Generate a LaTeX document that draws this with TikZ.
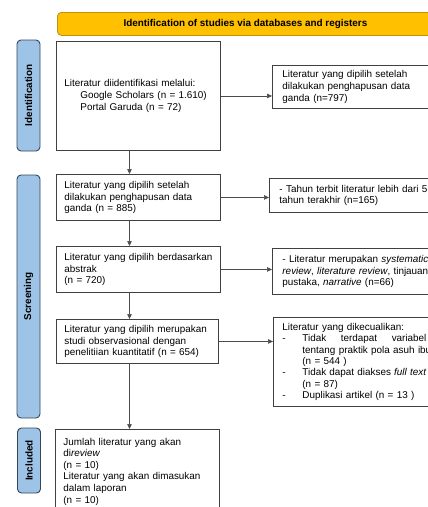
\documentclass[tikz,border=0pt]{standalone}
\usepackage{fontspec}
\setmainfont{Liberation Sans}
\usetikzlibrary{arrows.meta}

\definecolor{bannergold}{RGB}{255,192,0}
\definecolor{bannerrim}{RGB}{190,145,20}
\definecolor{phaseblue}{RGB}{157,195,230}
\definecolor{phaserim}{RGB}{55,70,90}

\newcommand{\exdash}{\makebox[20pt][l]{-}}

\begin{document}
\begin{tikzpicture}[x=1pt,y=-1pt]

\tikzset{
  txt/.style={font=\fontsize{9.9}{11.6}\selectfont},
  box/.style={txt,draw=black!75,line width=0.9pt,anchor=north west,align=left,inner xsep=8pt,inner ysep=2pt},
  phase/.style={draw=phaserim,fill=phaseblue,line width=0.9pt,rounded corners=4pt,rotate=90,inner sep=0pt,minimum height=23pt,font=\fontsize{9.9}{11.6}\selectfont\bfseries},
  flow/.style={draw=black!70,line width=0.7pt,-{Triangle[length=5pt,width=4.5pt]}}
}

\useasboundingbox (0,0) rectangle (428,507);
\clip (0,0) rectangle (428,507);

%% Banner
\node[draw=bannerrim,fill=bannergold,line width=0.8pt,rounded corners=4pt,anchor=north west,minimum width=376pt,minimum height=23pt,inner sep=0pt,font=\fontsize{9.9}{11.6}\selectfont\bfseries] (banner) at (57,12) {Identification of studies via databases and registers};

%% Phases
\node[phase,minimum width=111pt] (idphase) at (28.5,95.5) {Identification};
\node[phase,minimum width=243pt] (scrphase) at (28.5,296.5) {Screening};
\node[phase,minimum width=65pt] (incphase) at (29,460.5) {Included};

%% Identification
\node[box,minimum height=109pt,text width=148pt] (ident) at (56,41) {Literatur diidentifikasi melalui:\\
  \hspace*{16pt}Google Scholars (n = 1.610)\\
  \hspace*{16pt}Portal Garuda (n = 72)};
\node[box,minimum height=43pt,text width=154pt,inner xsep=10pt] (dedup) at (272,65) {Literatur yang dipilih setelah\\
  dilakukan penghapusan data\\
  ganda (n=797)};

%% Screening
\node[box,minimum height=46pt,text width=148pt] (screen1) at (56,174) {Literatur yang dipilih setelah\\
  dilakukan penghapusan data\\
  ganda (n = 885)};
\node[box,minimum height=34pt,text width=155pt,inner xsep=10pt] (excl1) at (269,178) {- Tahun terbit literatur lebih dari 5\\
  tahun terakhir (n=165)};

\node[box,minimum height=46pt,text width=148pt] (screen2) at (56,246) {\mbox{Literatur yang dipilih berdasarkan}\\
  abstrak\\
  (n = 720)};
\node[box,minimum height=46pt,text width=154pt,inner xsep=10pt] (excl2) at (272,248) {- Literatur merupakan \textit{systematic}\\
  \textit{review}, \textit{literature review}, tinjauan\\
  pustaka, \textit{narrative} (n=66)};

\node[box,minimum height=44pt,text width=146pt] (screen3) at (56,319) {\mbox{Literatur yang dipilih merupakan}\\
  studi observasional dengan\\
  penelitiian kuantitatif (n = 654)};
\node[box,minimum height=89pt,text width=154pt,inner xsep=9pt,font=\fontsize{9.9}{11.3}\selectfont] (excl3) at (273,317) {Literatur yang dikecualikan:\\
  \exdash\makebox[124pt][l]{Tidak\hfill terdapat\hfill variabel}\\
  \hspace*{20pt}tentang praktik pola asuh ibu\\
  \hspace*{20pt}(n = 544 )\\
  \exdash\makebox[124pt][l]{Tidak\hfill dapat\hfill diakses\hfill \textit{full text}}\\
  \hspace*{20pt}(n = 87)\\
  \exdash Duplikasi artikel (n = 13 )};

%% Included
\node[box,minimum height=84pt,text width=148pt] (incl) at (55,429) {Jumlah literatur yang akan\\
  di\textit{review}\\
  (n = 10)\\
  Literatur yang akan dimasukan\\
  dalam laporan\\
  (n = 10)};

%% Flow
\coordinate (spine) at (129.5,0);
\draw[flow] (ident.south -| spine) -- (screen1.north -| spine);
\draw[flow] (screen1.south -| spine) -- (screen2.north -| spine);
\draw[flow] (screen2.south -| spine) -- (screen3.north -| spine);
\draw[flow] (screen3.south -| spine) -- (incl.north -| spine);

\draw[flow] (ident.east) -- (ident.east -| dedup.west);
\draw[flow] (screen1.east) -- (screen1.east -| excl1.west);
\draw[flow] (screen2.east) -- (screen2.east -| excl2.west);
\draw[flow] (screen3.east) -- (screen3.east -| excl3.west);

\end{tikzpicture}
\end{document}
